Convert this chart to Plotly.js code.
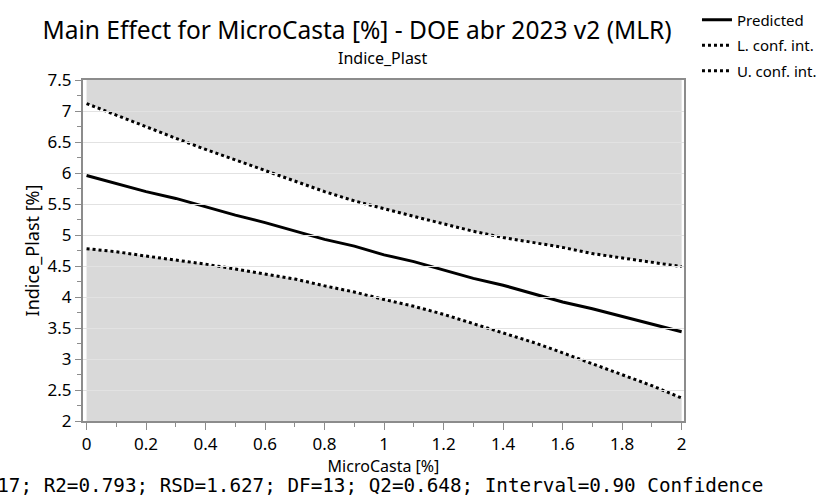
<!DOCTYPE html>
<html><head><meta charset="utf-8">
<script src="https://cdn.plot.ly/plotly-3.0.1.min.js"></script>
<style>html,body{margin:0;padding:0;background:#fff}</style>
</head><body><div id="chart" style="width:819px;height:499px"></div>
<script>
const microCasta = [0,0.1,0.2,0.3,0.4,0.5,0.6,0.7,0.8,0.9,1.0,1.1,1.2,1.3,1.4,1.5,1.6,1.7,1.8,1.9,2.0];
const predicted  = [5.96,5.83,5.70,5.59,5.45,5.32,5.20,5.07,4.93,4.82,4.68,4.57,4.44,4.30,4.19,4.05,3.92,3.81,3.69,3.56,3.44];
const upperCI    = [7.12,6.93,6.75,6.56,6.38,6.21,6.04,5.86,5.70,5.55,5.42,5.30,5.18,5.06,4.96,4.88,4.80,4.70,4.63,4.57,4.49];
const lowerCI    = [4.78,4.73,4.66,4.60,4.53,4.45,4.37,4.29,4.18,4.08,3.96,3.85,3.72,3.57,3.43,3.27,3.10,2.92,2.74,2.57,2.37];
const yRange = [2, 7.5];
const xRange = [-0.012, 2.008];
const xTicks = [0,0.2,0.4,0.6,0.8,1,1.2,1.4,1.6,1.8,2];
const yTicks = [2,2.5,3,3.5,4,4.5,5,5.5,6,6.5,7,7.5];

const titleText = 'Main Effect for MicroCasta [%] - DOE abr 2023 v2 (MLR)';
const subtitleText = 'Indice_Plast';
const footerText = 'N=17; R2=0.793; RSD=1.627; DF=13; Q2=0.648; Interval=0.90 Confidence';

const FONT = 'Noto Sans, Open Sans, sans-serif';
const bandFill = '#d9d9d9';

const traces = [
  {x: microCasta, y: microCasta.map(() => yRange[1]), mode: 'lines', line: {width: 0}, showlegend: false, hoverinfo: 'skip'},
  {x: microCasta, y: upperCI, mode: 'lines', fill: 'tonexty', fillcolor: bandFill, line: {width: 0}, showlegend: false, hoverinfo: 'skip'},
  {x: microCasta, y: microCasta.map(() => yRange[0]), mode: 'lines', line: {width: 0}, showlegend: false, hoverinfo: 'skip'},
  {x: microCasta, y: lowerCI, mode: 'lines', fill: 'tonexty', fillcolor: bandFill, line: {width: 0}, showlegend: false, hoverinfo: 'skip'},
  {x: microCasta, y: predicted, mode: 'lines', name: 'Predicted', legendgroup: 'a', line: {color: '#000', width: 3}},
  {x: microCasta, y: lowerCI, mode: 'lines', name: 'L. conf. int.', legendgroup: 'b', line: {color: '#000', width: 3, dash: '3px,3px'}},
  {x: microCasta, y: upperCI, mode: 'lines', name: 'U. conf. int.', legendgroup: 'c', line: {color: '#000', width: 3, dash: '3px,3px'}}
];

const layout = {
  width: 819, height: 499,
  margin: {l: 83, r: 135, t: 80, b: 78},
  paper_bgcolor: '#fff', plot_bgcolor: 'rgba(0,0,0,0)',
  font: {family: FONT, color: '#000', size: 16},
  title: {text: titleText, font: {family: FONT, size: 24.5, color: '#000'}, xref: 'paper', x: 0.456, xanchor: 'center', yref: 'container', y: 0.94, yanchor: 'middle', automargin: false},
  showlegend: true,
  legend: {xref: 'container', yref: 'container', x: 0.851, xanchor: 'left', y: 0.993, yanchor: 'top',
           traceorder: 'grouped', tracegroupgap: 3,
           font: {family: FONT, size: 15, color: '#000'}, bgcolor: 'rgba(0,0,0,0)', itemwidth: 30},
  xaxis: {
    range: xRange, tickvals: xTicks, ticktext: xTicks.map(String), automargin: false,
    showgrid: false, zeroline: false,
    showline: true, linecolor: '#8c8c8c', linewidth: 2, mirror: true,
    ticks: 'outside', ticklen: 7, tickcolor: '#8c8c8c', tickwidth: 1,
    minor: {dtick: 0.1, tick0: 0, ticks: 'outside', ticklen: 4, tickcolor: '#8c8c8c', showgrid: false},
    tickfont: {family: FONT, size: 17},
    title: {text: 'MicroCasta [%]', font: {family: FONT, size: 16}, standoff: 6}
  },
  yaxis: {
    range: yRange, tickvals: yTicks, ticktext: yTicks.map(String), automargin: false,
    showgrid: false, zeroline: false,
    showline: true, linecolor: '#8c8c8c', linewidth: 2, mirror: true,
    ticks: 'outside', ticklen: 6, tickcolor: '#8c8c8c', tickwidth: 1,
    minor: {dtick: 0.25, tick0: 0, ticks: 'outside', ticklen: 4, tickcolor: '#8c8c8c', showgrid: false},
    tickfont: {family: FONT, size: 17},
    title: {text: 'Indice_Plast [%]', font: {family: FONT, size: 18}, standoff: 3}
  },
  xaxis2: {range: xRange, anchor: 'y2', showgrid: false, zeroline: false, showline: false, showticklabels: false, ticks: ''},
  yaxis2: {range: yRange, anchor: 'x2', tickvals: yTicks, showgrid: true, gridcolor: '#e2e2e2', gridwidth: 1, zeroline: false, showline: false, showticklabels: false, ticks: ''},
  annotations: [
    {text: subtitleText, xref: 'paper', yref: 'paper', x: 0.499, y: 1.0645, xanchor: 'center', yanchor: 'middle', showarrow: false, font: {family: FONT, size: 16}},
    {text: footerText, xref: 'paper', yref: 'paper', x: 1.134, y: -0.188, xanchor: 'right', yanchor: 'middle', showarrow: false, font: {family: 'DejaVu Sans Mono, Liberation Mono, monospace', size: 19.3}}
  ]
};

// empty overlay subplot to draw gridlines above the shaded bands
traces.push({x: [null], y: [null], xaxis: 'x2', yaxis: 'y2', showlegend: false, hoverinfo: 'skip', mode: 'lines'});

Plotly.newPlot('chart', traces, layout, {displayModeBar: false, staticPlot: true});
</script></body></html>
